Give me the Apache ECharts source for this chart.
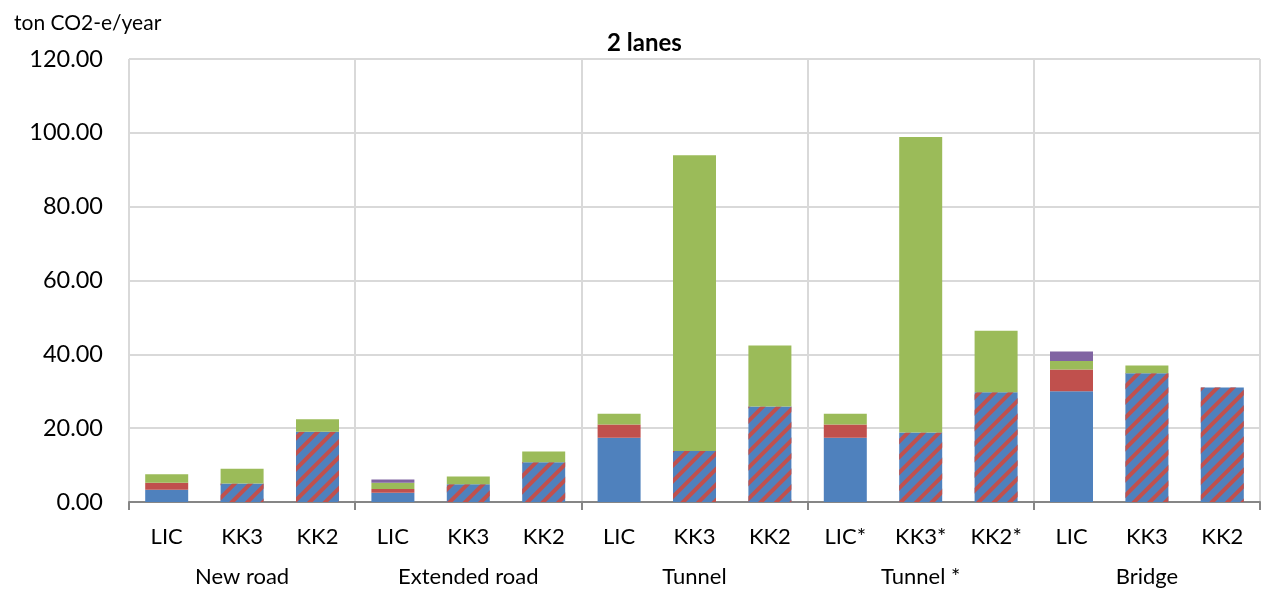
<!DOCTYPE html>
<html>
<head>
<meta charset="utf-8">
<script src="https://cdn.jsdelivr.net/npm/echarts@6/dist/echarts.min.js"></script>
<style>
  html, body { margin: 0; padding: 0; background: #fff; }
  #chart { width: 1263px; height: 590px; }
</style>
</head>
<body>
<div id="chart"></div>
<script>
// Annual emissions per structure type and design variant (ton CO2-e/year)
const categories = ['LIC', 'KK3', 'KK2', 'LIC', 'KK3', 'KK2', 'LIC', 'KK3', 'KK2',
                    'LIC*', 'KK3*', 'KK2*', 'LIC', 'KK3', 'KK2'];
const groups = ['New road', 'Extended road', 'Tunnel', 'Tunnel *', 'Bridge'];
const yTicks = [0, 20, 40, 60, 80, 100, 120];

// Stacked components
const baseSolid   = [3.3, null, null, 2.5, null, null, 17.4, null, null, 17.4, null, null, 30.0, null, null];
const baseHatched = [null, 5.0, 19.0, null, 4.8, 10.8, null, 13.8, 25.9, null, 18.8, 29.7, null, 34.9, 31.0];
const redPart     = [1.9, null, null, 1.0, null, null, 3.6, null, null, 3.6, null, null, 5.9, null, null];
const greenPart   = [2.3, 4.0, 3.4, 1.7, 2.1, 2.9, 2.9, 80.1, 16.5, 2.9, 80.1, 16.7, 2.3, 2.1, null];
const purplePart  = [null, null, null, 0.9, null, null, null, null, null, null, null, null, 2.6, null, null];

const FONT = 'Lato';
const BLUE = '#4F81BD', RED = '#C0504D', GREEN = '#9BBB59', PURPLE = '#8064A2';

function barSeries(name, data, color, extra) {
  return Object.assign({
    name: name,
    type: 'bar',
    stack: 'total',
    barWidth: 43,
    data: data,
    itemStyle: { color: color },
    emphasis: { disabled: true }
  }, extra || {});
}

const chart = echarts.init(document.getElementById('chart'), null, { renderer: 'canvas' });
chart.setOption({
  animation: false,
  backgroundColor: '#fff',
  textStyle: { fontFamily: FONT },
  title: [
    { text: '2 lanes', left: 602, top: 26,
      textStyle: { fontFamily: FONT, fontSize: 24, fontWeight: 'bold', color: '#000' } },
    { text: 'ton CO2-e/year', left: 9, top: 8,
      textStyle: { fontFamily: FONT, fontSize: 21, fontWeight: 'normal', color: '#000' } }
  ],
  grid: { left: 129, right: 3, top: 59, bottom: 88, containLabel: false },
  xAxis: [
    {
      // variant labels under each bar
      type: 'category',
      data: categories,
      position: 'bottom',
      axisLine: { show: true, lineStyle: { color: '#868686', width: 2 } },
      axisTick: { show: false },
      splitLine: { show: false },
      axisLabel: { interval: 0, margin: 24, fontFamily: FONT, fontSize: 22, color: '#000' }
    },
    {
      // structure groups: boundary ticks, vertical gridlines and group names
      type: 'category',
      data: groups,
      position: 'bottom',
      axisLine: { show: false },
      axisTick: { show: true, interval: 0, length: 8, lineStyle: { color: '#868686', width: 2 } },
      splitLine: { show: true, interval: 0, lineStyle: { color: '#D9D9D9', width: 2 } },
      axisLabel: { interval: 0, margin: 64, fontFamily: FONT, fontSize: 22, color: '#000' }
    }
  ],
  yAxis: {
    type: 'value',
    min: yTicks[0],
    max: yTicks[yTicks.length - 1],
    interval: yTicks[1] - yTicks[0],
    axisLine: { show: false },
    axisTick: { show: false },
    splitLine: { show: true, lineStyle: { color: '#D9D9D9', width: 2 } },
    axisLabel: {
      margin: 26,
      fontFamily: FONT, fontSize: 23.5, color: '#000',
      formatter: v => v.toFixed(2)
    }
  },
  series: [
    barSeries('Base', baseSolid, BLUE),
    barSeries('Base (alt.)', baseHatched, BLUE, {
      itemStyle: {
        color: BLUE,
        decal: {
          symbol: 'rect',
          symbolSize: 1,
          color: RED,
          dashArrayX: [1, 0],
          dashArrayY: [4, 7],
          rotation: -Math.PI / 4
        }
      }
    }),
    barSeries('Red', redPart, RED),
    barSeries('Green', greenPart, GREEN),
    barSeries('Purple', purplePart, PURPLE)
  ]
});
</script>
</body>
</html>
